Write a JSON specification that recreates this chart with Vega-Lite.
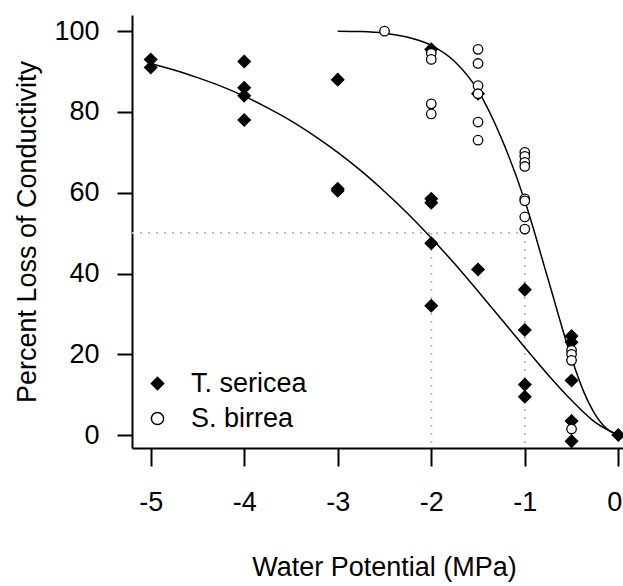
{
  "$schema": "https://vega.github.io/schema/vega-lite/v6.json",
  "width": 491,
  "height": 433,
  "autosize": {"type": "none"},
  "padding": {"left": 132, "top": 15, "right": 0, "bottom": 138},
  "background": "white",
  "config": {
    "view": {"stroke": null},
    "font": "Liberation Sans",
    "axis": {
      "domainColor": "black", "domainWidth": 2,
      "tickColor": "black", "tickWidth": 2,
      "labelFont": "Liberation Sans", "labelFontSize": 27, "labelColor": "black",
      "titleFont": "Liberation Sans", "titleFontSize": 27, "titleFontWeight": "normal", "titleColor": "black",
      "grid": false, "labelFlush": false, "labelOverlap": false
    },
    "axisX": {"tickSize": 18, "labelPadding": 23, "titlePadding": 39},
    "axisY": {"tickSize": 15, "labelPadding": 18, "titlePadding": 12}
  },
  "datasets": {
    "points": [
      {"psi": -5, "plc": 93, "species": "T. sericea"},
      {"psi": -5, "plc": 91, "species": "T. sericea"},
      {"psi": -4, "plc": 92.5, "species": "T. sericea"},
      {"psi": -4, "plc": 86, "species": "T. sericea"},
      {"psi": -4, "plc": 84, "species": "T. sericea"},
      {"psi": -4, "plc": 78, "species": "T. sericea"},
      {"psi": -3, "plc": 88, "species": "T. sericea"},
      {"psi": -3, "plc": 61, "species": "T. sericea"},
      {"psi": -3, "plc": 60.5, "species": "T. sericea"},
      {"psi": -2, "plc": 95.5, "species": "T. sericea"},
      {"psi": -2, "plc": 58.5, "species": "T. sericea"},
      {"psi": -2, "plc": 57.5, "species": "T. sericea"},
      {"psi": -2, "plc": 47.5, "species": "T. sericea"},
      {"psi": -2, "plc": 32, "species": "T. sericea"},
      {"psi": -1.5, "plc": 84.5, "species": "T. sericea"},
      {"psi": -1.5, "plc": 41, "species": "T. sericea"},
      {"psi": -1, "plc": 36, "species": "T. sericea"},
      {"psi": -1, "plc": 26, "species": "T. sericea"},
      {"psi": -1, "plc": 12.5, "species": "T. sericea"},
      {"psi": -1, "plc": 9.5, "species": "T. sericea"},
      {"psi": -0.5, "plc": 24.5, "species": "T. sericea"},
      {"psi": -0.5, "plc": 23, "species": "T. sericea"},
      {"psi": -0.5, "plc": 13.5, "species": "T. sericea"},
      {"psi": -0.5, "plc": 3.5, "species": "T. sericea"},
      {"psi": -0.5, "plc": -1.5, "species": "T. sericea"},
      {"psi": 0, "plc": 0, "species": "T. sericea"},
      {"psi": -2.5, "plc": 100, "species": "S. birrea"},
      {"psi": -2, "plc": 94.5, "species": "S. birrea"},
      {"psi": -2, "plc": 93, "species": "S. birrea"},
      {"psi": -2, "plc": 82, "species": "S. birrea"},
      {"psi": -2, "plc": 79.5, "species": "S. birrea"},
      {"psi": -1.5, "plc": 95.5, "species": "S. birrea"},
      {"psi": -1.5, "plc": 92, "species": "S. birrea"},
      {"psi": -1.5, "plc": 86.5, "species": "S. birrea"},
      {"psi": -1.5, "plc": 84.5, "species": "S. birrea"},
      {"psi": -1.5, "plc": 77.5, "species": "S. birrea"},
      {"psi": -1.5, "plc": 73, "species": "S. birrea"},
      {"psi": -1, "plc": 70, "species": "S. birrea"},
      {"psi": -1, "plc": 69, "species": "S. birrea"},
      {"psi": -1, "plc": 67.5, "species": "S. birrea"},
      {"psi": -1, "plc": 66.5, "species": "S. birrea"},
      {"psi": -1, "plc": 58.5, "species": "S. birrea"},
      {"psi": -1, "plc": 58, "species": "S. birrea"},
      {"psi": -1, "plc": 54, "species": "S. birrea"},
      {"psi": -1, "plc": 51, "species": "S. birrea"},
      {"psi": -0.5, "plc": 21, "species": "S. birrea"},
      {"psi": -0.5, "plc": 20, "species": "S. birrea"},
      {"psi": -0.5, "plc": 18.5, "species": "S. birrea"},
      {"psi": -0.5, "plc": 1.5, "species": "S. birrea"}
    ],
    "curves": [
      {"psi": -5, "plc": 92.0, "species": "T. sericea"},
      {"psi": -4.75, "plc": 90.4, "species": "T. sericea"},
      {"psi": -4.5, "plc": 88.5, "species": "T. sericea"},
      {"psi": -4.25, "plc": 86.4, "species": "T. sericea"},
      {"psi": -4, "plc": 83.9, "species": "T. sericea"},
      {"psi": -3.75, "plc": 81.0, "species": "T. sericea"},
      {"psi": -3.5, "plc": 77.8, "species": "T. sericea"},
      {"psi": -3.25, "plc": 74.1, "species": "T. sericea"},
      {"psi": -3, "plc": 70.0, "species": "T. sericea"},
      {"psi": -2.75, "plc": 65.4, "species": "T. sericea"},
      {"psi": -2.5, "plc": 60.3, "species": "T. sericea"},
      {"psi": -2.25, "plc": 54.8, "species": "T. sericea"},
      {"psi": -2, "plc": 48.8, "species": "T. sericea"},
      {"psi": -1.75, "plc": 42.4, "species": "T. sericea"},
      {"psi": -1.5, "plc": 35.6, "species": "T. sericea"},
      {"psi": -1.25, "plc": 28.7, "species": "T. sericea"},
      {"psi": -1, "plc": 21.7, "species": "T. sericea"},
      {"psi": -0.75, "plc": 14.9, "species": "T. sericea"},
      {"psi": -0.5, "plc": 8.6, "species": "T. sericea"},
      {"psi": -0.25, "plc": 3.2, "species": "T. sericea"},
      {"psi": 0, "plc": 0, "species": "T. sericea"},
      {"psi": -3, "plc": 100, "species": "S. birrea"},
      {"psi": -2.75, "plc": 99.9, "species": "S. birrea"},
      {"psi": -2.5, "plc": 99.5, "species": "S. birrea"},
      {"psi": -2.25, "plc": 98.5, "species": "S. birrea"},
      {"psi": -2, "plc": 96.5, "species": "S. birrea"},
      {"psi": -1.75, "plc": 92.5, "species": "S. birrea"},
      {"psi": -1.5, "plc": 85.3, "species": "S. birrea"},
      {"psi": -1.25, "plc": 73.5, "species": "S. birrea"},
      {"psi": -1, "plc": 58, "species": "S. birrea"},
      {"psi": -0.75, "plc": 38.5, "species": "S. birrea"},
      {"psi": -0.5, "plc": 19, "species": "S. birrea"},
      {"psi": -0.375, "plc": 11, "species": "S. birrea"},
      {"psi": -0.25, "plc": 5.2, "species": "S. birrea"},
      {"psi": -0.125, "plc": 1.6, "species": "S. birrea"},
      {"psi": 0, "plc": 0, "species": "S. birrea"}
    ],
    "guides": [
      {"x": -5.2, "x2": -1, "y": 50, "y2": 50},
      {"x": -2, "x2": -2, "y": 50, "y2": -3.2},
      {"x": -1, "x2": -1, "y": 50, "y2": -3.2}
    ]
  },
  "layer": [
    {
      "data": {"name": "guides"},
      "mark": {"type": "rule", "color": "#bdbdbd", "strokeWidth": 2, "strokeDash": [2, 6]},
      "encoding": {
        "x": {"field": "x", "type": "quantitative", "scale": {"domain": [-5.2, 0.05], "nice": false, "zero": false},
              "axis": {"values": [-5, -4, -3, -2, -1, 0], "labelExpr": "datum.value + ''",
                       "labelOffset": {"condition": {"test": "datum.value == 0", "value": -4}, "value": 0},
                       "title": "Water Potential (MPa)", "titleX": 252}},
        "x2": {"field": "x2"},
        "y": {"field": "y", "type": "quantitative", "scale": {"domain": [-3.2, 104], "nice": false, "zero": false},
              "axis": {"values": [0, 20, 40, 60, 80, 100], "labelExpr": "datum.value + ''", "title": "Percent Loss of Conductivity"}},
        "y2": {"field": "y2"}
      }
    },
    {
      "mark": {"type": "rule", "color": "black", "strokeWidth": 2},
      "encoding": {"y": {"datum": 104, "type": "quantitative"}}
    },
    {
      "data": {"name": "curves"},
      "mark": {"type": "line", "color": "black", "strokeWidth": 1.5, "interpolate": "monotone"},
      "encoding": {
        "x": {"field": "psi", "type": "quantitative"},
        "y": {"field": "plc", "type": "quantitative"},
        "detail": {"field": "species"}
      }
    },
    {
      "data": {"name": "points"},
      "transform": [{"filter": "datum.species == 'T. sericea'"}],
      "mark": {"type": "point", "filled": true, "stroke": "black", "strokeWidth": 1.3, "opacity": 1, "size": 150},
      "encoding": {
        "x": {"field": "psi", "type": "quantitative"},
        "y": {"field": "plc", "type": "quantitative"},
        "shape": {"field": "species", "type": "nominal", "scale": {"domain": ["T. sericea", "S. birrea"], "range": ["diamond", "circle"]},
                  "legend": {"orient": "none", "legendX": 12, "legendY": 355, "padding": 0, "title": null,
                             "labelFont": "Liberation Sans", "labelFontSize": 27, "labelColor": "black",
                             "symbolSize": 150, "rowPadding": 7, "labelOffset": 20,
                             "encode": {"symbols": {"update": {
                               "stroke": {"value": "black"}, "strokeWidth": {"value": 1.3}, "opacity": {"value": 1},
                               "size": {"signal": "datum.value == 'T. sericea' ? 150 : 90"}}}}}},
        "fill": {"field": "species", "type": "nominal", "scale": {"domain": ["T. sericea", "S. birrea"], "range": ["black", "white"]},
                 "legend": {"orient": "none", "legendX": 12, "legendY": 355, "padding": 0, "title": null,
                            "labelFont": "Liberation Sans", "labelFontSize": 27, "labelColor": "black",
                            "symbolSize": 150, "rowPadding": 7, "labelOffset": 20,
                            "encode": {"symbols": {"update": {
                              "stroke": {"value": "black"}, "strokeWidth": {"value": 1.3}, "opacity": {"value": 1},
                              "size": {"signal": "datum.value == 'T. sericea' ? 150 : 90"}}}}}}
      }
    },
    {
      "data": {"name": "points"},
      "transform": [{"filter": "datum.species == 'S. birrea'"}],
      "mark": {"type": "point", "filled": true, "stroke": "black", "strokeWidth": 1.3, "opacity": 1, "size": 90},
      "encoding": {
        "x": {"field": "psi", "type": "quantitative"},
        "y": {"field": "plc", "type": "quantitative"},
        "shape": {"field": "species", "type": "nominal"},
        "fill": {"field": "species", "type": "nominal"}
      }
    }
  ]
}
